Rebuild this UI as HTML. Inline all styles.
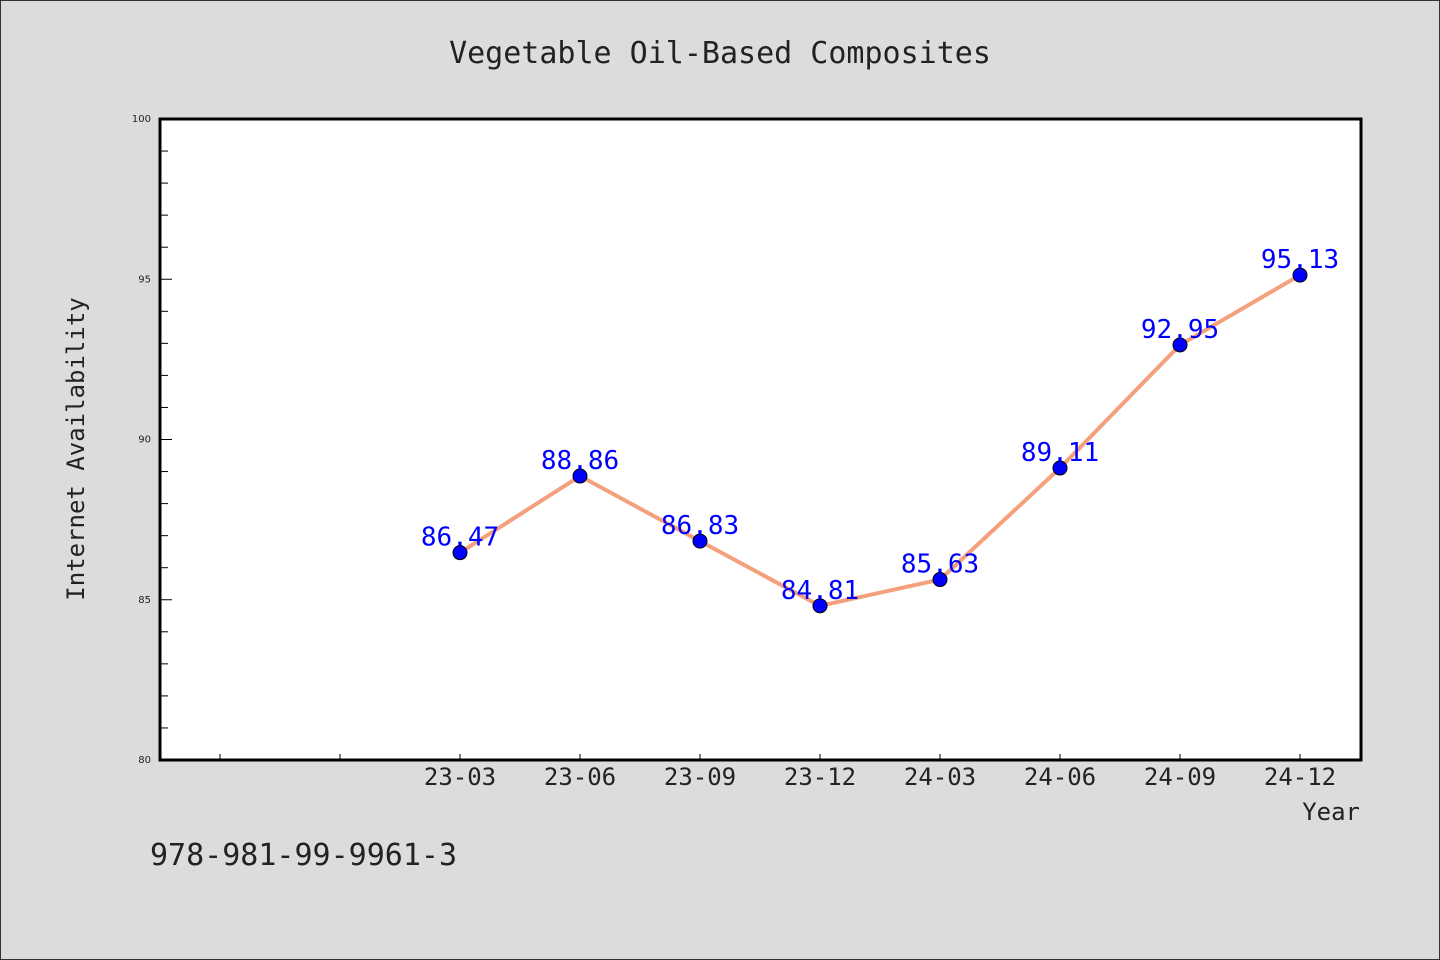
<!DOCTYPE html>
<html><head><meta charset="utf-8"><style>
html,body{margin:0;padding:0;background:#dcdcdc;}
svg{display:block;font-family:"WenQuanYi Zen Hei Mono","WenQuanYi Zen Hei","DejaVu Sans Mono",monospace;}
</style></head><body>
<svg id="chart" width="1440" height="960" xmlns="http://www.w3.org/2000/svg">
<rect x="0.5" y="0.5" width="1439" height="959" fill="#dcdcdc" stroke="#333" stroke-width="1"/>
<text x="720" y="63" font-size="30" text-anchor="middle" fill="#222">Vegetable Oil-Based Composites</text>
<rect x="160" y="119" width="1201" height="641" fill="#fff"/>
<g id="yticks"></g><g id="xticks"></g><g id="series"></g>
<rect x="160" y="119" width="1201" height="641" fill="none" stroke="#000" stroke-width="3"/>
<text transform="translate(84,449) rotate(-90)" font-size="24" text-anchor="middle" fill="#222">Internet Availability</text>
<text x="1360" y="820" font-size="24" text-anchor="end" fill="#222">Year</text>
<text x="150" y="865" font-size="30" fill="#222">978-981-99-9961-3</text>
</svg>
<script>
const categories=["","","23-03","23-06","23-09","23-12","24-03","24-06","24-09","24-12"];
const values=[null,null,86.47,88.86,86.83,84.81,85.63,89.11,92.95,95.13];
const labels=["","","86.47","88.86","86.83","84.81","85.63","89.11","92.95","95.13"];
const yTickLabels=["80","85","90","95","100"];
const NS="http://www.w3.org/2000/svg";
const x=i=>220+i*120;
const y=v=>760-(v-80)*(641/20);
function mk(t,a,p){const e=document.createElementNS(NS,t);for(const k in a)e.setAttribute(k,a[k]);p.appendChild(e);return e;}
const yt=document.getElementById('yticks');
for(let v=80;v<=100;v++){const major=v%5===0;
 const l=mk('line',{x1:160,x2:major?172:168,y1:y(v),y2:y(v),stroke:'#000','stroke-width':1},yt);
 
 }
yTickLabels.forEach(s=>{const t=mk('text',{x:151,y:y(+s)+3,'font-size':10,'text-anchor':'end',fill:'#222',"font-family":"DejaVu Sans,sans-serif"},yt);t.textContent=s;
 
 });
const xt=document.getElementById('xticks');
categories.forEach((c,i)=>{const l=mk('line',{x1:x(i),x2:x(i),y1:760,y2:754,stroke:'#000','stroke-width':1},xt);
 
 
 if(c){const t=mk('text',{x:x(i),y:785,'font-size':24,'text-anchor':'middle',fill:'#222'},xt);t.textContent=c;
 
 }});
const s=document.getElementById('series');
const pts=values.map((v,i)=>v==null?null:[x(i),y(v)]).filter(p=>p);
const pl=mk('polyline',{points:pts.map(p=>p.join(',')).join(' '),fill:'none',stroke:'#f4a07c','stroke-width':4},s);


values.forEach((v,i)=>{if(v==null)return;
 const c=mk('circle',{cx:x(i),cy:y(v),r:7,fill:'#0000ff',stroke:'#000','stroke-width':1},s);
 
 
 const t=mk('text',{x:x(i),y:y(v)-7,'font-size':26,'text-anchor':'middle',fill:'#0000ff'},s);t.textContent=labels[i];
 
 });
</script>
</body></html>
